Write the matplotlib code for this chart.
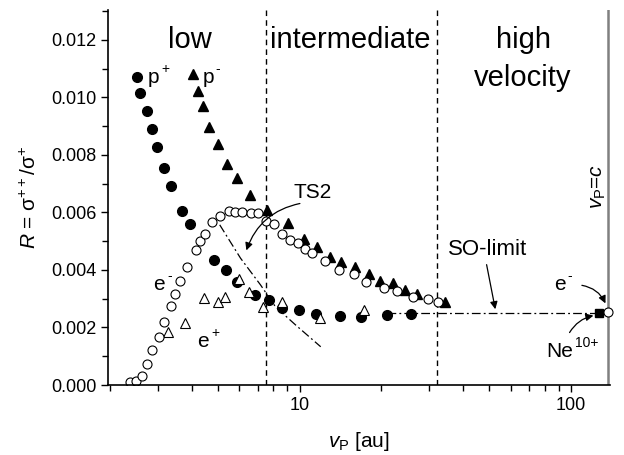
import matplotlib
matplotlib.use('Agg')
import matplotlib.pyplot as plt
from matplotlib.ticker import LogLocator, NullFormatter, FixedLocator, MultipleLocator, FormatStrFormatter

plt.rcParams['font.family'] = ['Liberation Sans', 'DejaVu Sans']
plt.rcParams['mathtext.fontset'] = 'custom'
plt.rcParams['mathtext.rm'] = 'Liberation Sans'
plt.rcParams['mathtext.it'] = 'Liberation Sans:italic'
plt.rcParams['mathtext.sf'] = 'Liberation Sans'

# p+ (filled circles)
v_pplus = [2.52, 2.59, 2.74, 2.86, 2.99, 3.18, 3.36, 3.69, 3.96, 4.83, 5.35, 5.89, 6.84,
           7.73, 8.64, 9.94, 11.5, 14.1, 16.8, 20.9, 25.7]
R_pplus = [0.01072, 0.01017, 0.00954, 0.00890, 0.00829, 0.00756, 0.00692, 0.00606, 0.00559,
           0.00435, 0.00400, 0.00359, 0.00313, 0.00296, 0.00267, 0.00261, 0.00247, 0.00241,
           0.00238, 0.00243, 0.00247]

# p- (filled triangles)
v_pminus = [4.05, 4.23, 4.41, 4.63, 5.01, 5.42, 5.90, 6.54, 7.60, 9.07, 10.37, 11.62, 12.9,
            14.25, 15.96, 18.0, 19.8, 22.0, 24.4, 27.0, 34.3]
R_pminus = [0.01082, 0.01023, 0.00970, 0.00898, 0.00838, 0.00769, 0.00719, 0.00661, 0.00609,
            0.00562, 0.00507, 0.00481, 0.00446, 0.00429, 0.00409, 0.00385, 0.00362, 0.00354,
            0.00330, 0.00316, 0.00290]

# e- (open circles)
v_eminus = [2.37, 2.49, 2.63, 2.74, 2.86, 3.03, 3.16, 3.37, 3.49, 3.62, 3.85, 4.16, 4.31,
            4.50, 4.76, 5.08, 5.48, 5.80, 6.15, 6.60, 7.04, 7.49, 8.04, 8.64, 9.23, 9.87,
            10.5, 11.1, 12.4, 13.96, 15.9, 17.5, 20.5, 22.9, 26.1, 29.6, 32.2]
R_eminus = [0.000115, 0.00015, 0.00031, 0.00073, 0.00122, 0.00168, 0.00220, 0.00276, 0.00317,
            0.00363, 0.00412, 0.00470, 0.00502, 0.00525, 0.00566, 0.00589, 0.00606, 0.00603,
            0.00601, 0.00599, 0.00599, 0.00570, 0.00559, 0.00526, 0.00504, 0.00493, 0.00472,
            0.00458, 0.00432, 0.00400, 0.00386, 0.00359, 0.00338, 0.00327, 0.00307, 0.00299,
            0.00288]

# e+ (open triangles)
v_eplus = [3.29, 3.80, 4.46, 4.99, 5.33, 5.97, 6.50, 7.32, 8.58, 11.9, 17.3]
R_eplus = [0.00183, 0.00215, 0.00302, 0.00288, 0.00307, 0.00368, 0.00322, 0.00272, 0.00290,
           0.00234, 0.00261]

# TS2 curve (dash-dot)
v_ts2 = [5.08, 6.06, 7.18, 8.15, 9.66, 11.96]
R_ts2 = [0.00557, 0.00441, 0.00348, 0.00272, 0.00209, 0.00133]

# SO-limit line
v_so = [21.0, 127.0]
R_so = [0.00250, 0.00250]

# high velocity points
v_ne, R_ne = [127.0], [0.00250]
v_ec, R_ec = [137.0], [0.00254]

v_c = 137.0
region_edges = [7.5, 32.0]

fig = plt.figure(figsize=(6.24, 4.55), dpi=100)
ax = fig.add_axes([108/624, 70/455, 502/624, 375/455])

ax.set_xscale('log')
ax.set_xlim(1.97, 139)
ax.set_ylim(0, 0.01304)

for xe in region_edges:
    ax.axvline(xe, color='black', lw=1, ls=(0, (4, 3)))
ax.axvline(v_c, color='#808080', lw=1.8)

dashdot = (0, (7, 2.5, 1.5, 2.5))
ax.plot(v_ts2, R_ts2, color='black', lw=0.9, ls=dashdot)
ax.plot(v_so, R_so, color='black', lw=0.9, ls=dashdot)

ax.plot(v_pplus, R_pplus, 'o', color='black', ms=7, mec='black', ls='none')
ax.plot(v_pminus, R_pminus, '^', color='black', ms=7.5, ls='none')
ax.plot(v_eplus, R_eplus, '^', mfc='white', mec='black', ms=7.5, mew=0.8, ls='none')
ax.plot(v_eminus, R_eminus, 'o', mfc='white', mec='black', ms=6.5, mew=0.8, ls='none')
ax.plot(v_ne, R_ne, 's', color='black', ms=6, ls='none')
ax.plot(v_ec, R_ec, 'o', mfc='white', mec='black', ms=6.5, mew=0.8, ls='none', clip_on=False)

# region labels
ax.text(3.96, 0.0120, 'low', fontsize=21, ha='center', va='center')
ax.text(15.4, 0.0120, 'intermediate', fontsize=21, ha='center', va='center')
ax.text(66.5, 0.0120, 'high', fontsize=21, ha='center', va='center')
ax.text(66.5, 0.01068, 'velocity', fontsize=21, ha='center', va='center')


def label(x, y, base, sup):
    t = ax.text(x, y, base, fontsize=15, ha='left', va='baseline')
    ax.annotate(sup, xy=(1.0, 0.95), xycoords=t, xytext=(1.5, 0), textcoords='offset points',
                fontsize=10, ha='left', va='center')


# series labels
label(2.75, 0.0105, 'p', '+')
label(4.38, 0.0105, 'p', '-')
label(2.89, 0.0033, 'e', '-')
label(4.20, 0.00132, 'e', '+')
label(86.5, 0.0033, 'e', '-')
label(80.9, 0.00097, 'Ne', '10+')
ax.text(9.5, 0.0065, 'TS2', fontsize=15, ha='left', va='baseline')
ax.text(35.3, 0.00452, 'SO-limit', fontsize=16, ha='left', va='baseline')
ax.text(125.8, 0.00689, r'$v_{\mathrm{P}}$=$c$', fontsize=15, ha='center', va='center',
        rotation=90)

arw = dict(arrowstyle='-|>', color='black', lw=0.9, mutation_scale=11)
ax.annotate('', xy=(6.32, 0.00459), xytext=(10.26, 0.00633),
            arrowprops=dict(arw, connectionstyle='arc3,rad=0.3'))
ax.annotate('', xy=(52.8, 0.00254), xytext=(48.6, 0.00428),
            arrowprops=dict(arw, connectionstyle='arc3,rad=0'))
ax.annotate('', xy=(135.0, 0.00275), xytext=(107, 0.00348),
            arrowprops=dict(arw, connectionstyle='arc3,rad=-0.3'))
ax.annotate('', xy=(123.6, 0.00243), xytext=(97.5, 0.00174),
            arrowprops=dict(arw, connectionstyle='arc3,rad=-0.25'))

ax.spines['top'].set_visible(False)
ax.spines['right'].set_visible(False)
ax.spines['left'].set_linewidth(1.2)
ax.spines['bottom'].set_linewidth(1.2)

ax.xaxis.set_major_locator(FixedLocator([10, 100]))
ax.xaxis.set_major_formatter(FormatStrFormatter('%d'))
ax.xaxis.set_minor_locator(LogLocator(base=10, subs=range(2, 10)))
ax.xaxis.set_minor_formatter(NullFormatter())
ax.yaxis.set_major_locator(MultipleLocator(0.002))
ax.yaxis.set_minor_locator(MultipleLocator(0.001))
ax.yaxis.set_major_formatter(FormatStrFormatter('%.3f'))
ax.tick_params(which='major', direction='out', length=5, width=1, labelsize=13)
ax.tick_params(which='minor', direction='out', length=4, width=1)

ax.set_xlabel(r'$v_{\mathrm{P}}$ [au]', fontsize=15, labelpad=12)
ax.set_ylabel(r'$R$ = σ$^{++}$/σ$^{+}$', fontsize=15, labelpad=8)

fig.savefig('out.png', dpi=100)
